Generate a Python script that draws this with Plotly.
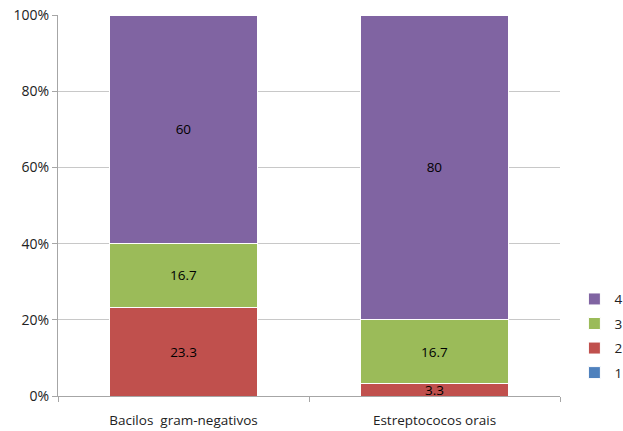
import plotly.graph_objects as go

categories = ["Bacilos  gram-negativos", "Estreptococos orais"]
series_names = ["1", "2", "3", "4"]
series_values = [
    [0, 0],
    [23.3, 3.3],
    [16.7, 16.7],
    [60, 80],
]
colors = ["#4F81BD", "#C0504D", "#9BBB59", "#8064A2"]
y_ticks = [0, 20, 40, 60, 80, 100]
y_tick_labels = ["0%", "20%", "40%", "60%", "80%", "100%"]

FONT = "Open Sans"

fig = go.Figure()
n = len(series_names)
for i, (name, vals, col) in enumerate(zip(series_names, series_values, colors)):
    fig.add_trace(go.Bar(
        x=categories,
        y=vals,
        name=name,
        legendgroup=name,
        legendrank=1000 + (n - i),
        marker=dict(color=col, line=dict(color="white", width=1)),
        text=[("%g" % v) if v else "" for v in vals],
        textposition="inside",
        insidetextanchor="middle",
        textfont=dict(color="black", size=13.5, family=FONT),
        constraintext="none",
        width=0.59,
        hoverinfo="skip",
    ))

fig.update_layout(
    barmode="stack",
    barnorm="percent",
    width=623,
    height=431,
    margin=dict(l=58, r=63, t=15, b=35, autoexpand=False),
    paper_bgcolor="white",
    plot_bgcolor="white",
    font=dict(family=FONT, size=13, color="#222222"),
    uniformtext=dict(mode=False),
    legend=dict(
        xref="container", yref="container",
        x=0.922, xanchor="left",
        y=0.22, yanchor="middle",
        traceorder="grouped",
        tracegroupgap=4,
        font=dict(size=13.5, family=FONT),
        itemwidth=30,
    ),
    xaxis=dict(
        showline=True, linecolor="#A6A6A6", linewidth=1,
        ticks="outside", tickson="boundaries", ticklen=5, tickcolor="#A6A6A6",
        tickfont=dict(size=13.5, family=FONT, color="#222222"),
        ticklabelstandoff=12,
        showgrid=False,
    ),
    yaxis=dict(
        range=[0, 100],
        tickvals=y_ticks, ticktext=y_tick_labels,
        showline=True, linecolor="#A6A6A6", linewidth=1,
        ticks="outside", ticklen=5, tickcolor="#A6A6A6",
        showgrid=True, gridcolor="#C8C8C8", gridwidth=1,
        tickfont=dict(size=14, family=FONT, color="#222222"),
        zeroline=False,
    ),
)

fig.write_html("out.html")
